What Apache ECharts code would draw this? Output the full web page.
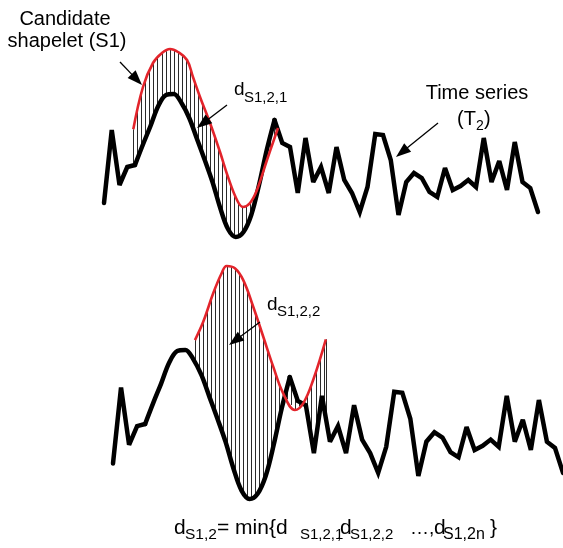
<!DOCTYPE html>
<html><head><meta charset="utf-8">
<script src="https://cdn.jsdelivr.net/npm/echarts@6/dist/echarts.min.js"></script>
<style>html,body{margin:0;padding:0;background:#fff;}#c{width:563px;height:548px;}</style>
</head><body><div id="c"></div>
<script>
// ---- data ----
const timeIndex = [];
for (let i = 0; i <= 56; i++) timeIndex.push(i);
const seriesT2 = [3.7, 11.0, 5.5, 7.3, 7.5, 9.5, 11.4, 13.4, 14.5, 14.6,
  13.7, 12.2, 10.1, 8.0, 5.8, 3.2, 1.1, 0.3, 0.8, 2.5,
  5.5, 9.0, 12.0, 9.7, 9.3, 4.7, 10.2, 5.8, 7.3, 4.7,
  9.3, 6.0, 4.7, 2.8, 5.3, 10.6, 10.5, 8.0, 2.5, 5.8,
  6.7, 6.2, 4.8, 4.3, 7.2, 5.0, 5.4, 6.0, 5.3, 10.2,
  5.8, 7.9, 5.0, 9.8, 5.8, 5.2, 2.8];
// candidate shapelet S1 placed at offset 1 (top) and offset 2 (bottom): [time, value]
const shapeletTime1 = [3.78, 5.03, 6.32, 7.48, 8.52, 9.55, 10.71, 11.48, 12.39, 13.68, 14.97, 16.0, 17.16, 17.94, 18.84, 19.74, 21.03, 22.45];
const shapeletVal1  = [11.07, 15.3, 17.7, 18.7, 19.1, 18.8, 18.0, 16.3, 14.3, 11.7, 8.8, 6.3, 4.0, 3.3, 3.7, 5.0, 8.0, 11.2];
const shapeletTime2 = [10.2, 11.23, 12.47, 13.52, 14.14, 15.17, 16.21, 17.45, 18.7, 19.94, 21.18, 22.64, 23.67, 24.91, 26.49];
const shapeletVal2  = [15.55, 17.3, 20.04, 21.96, 22.66, 22.44, 21.3, 18.75, 15.87, 13.0, 10.44, 8.84, 9.48, 11.72, 15.62];

const blackPts = timeIndex.map((t, i) => [t, seriesT2[i]]);
const red1 = shapeletTime1.map((t, i) => [t, shapeletVal1[i]]);
const red2 = shapeletTime2.map((t, i) => [t, shapeletVal2[i]]);
// the broad sine-like hump of T2 is drawn smooth, the noisy rest as a polyline
const blackA = blackPts.slice(0, 5);
const blackB = blackPts.slice(4, 23);
const blackC = blackPts.slice(22);

const FONT = '"Liberation Sans", Arial, sans-serif';

function interp(pts, t) {
  if (t <= pts[0][0]) return pts[0][1];
  for (let i = 1; i < pts.length; i++) {
    if (t <= pts[i][0]) {
      const a = pts[i - 1], b = pts[i];
      return a[1] + (b[1] - a[1]) * (t - a[0]) / (b[0] - a[0]);
    }
  }
  return pts[pts.length - 1][1];
}
function hatch(redPts, step) {
  return function (params, api) {
    const children = [];
    const t0 = redPts[0][0], t1 = redPts[redPts.length - 1][0];
    const ts = [];
    for (let t = t0; t < t1 - step * 0.3; t += step) ts.push(t);
    ts.push(t1);
    ts.forEach(t => {
      const a = api.coord([t, interp(redPts, t)]);
      const b = api.coord([t, interp(blackPts, t)]);
      const x = Math.round(a[0]) + 0.5;
      children.push({ type: 'line', shape: { x1: x, y1: a[1], x2: x, y2: b[1] },
        style: { stroke: '#2a2a2a', lineWidth: 1 } });
    });
    return { type: 'group', children };
  };
}

// ---- annotations ----
function txt(x, baseline, text, size, align) {
  return { type: 'text', x: x, y: baseline - 0.36 * size, z: 100,
    style: { text: text, font: size + 'px ' + FONT, fill: '#000',
      align: align || 'left', verticalAlign: 'middle' } };
}
function arrow(x1, y1, x2, y2) {
  const dx = x2 - x1, dy = y2 - y1, L = Math.hypot(dx, dy);
  const ux = dx / L, uy = dy / L, hl = 15, hw = 5.5;
  const bx = x2 - ux * hl, by = y2 - uy * hl;
  return [
    { type: 'line', z: 100, shape: { x1: x1, y1: y1, x2: bx + ux * 2, y2: by + uy * 2 },
      style: { stroke: '#000', lineWidth: 1.3 } },
    { type: 'polygon', z: 100, shape: { points: [[x2, y2], [bx - uy * hw, by + ux * hw], [bx + uy * hw, by - ux * hw]] },
      style: { fill: '#000' } }
  ];
}

const graphics = [
  txt(65, 27, 'Candidate', 20, 'center'),
  txt(67, 49, 'shapelet (S1)', 20, 'center'),
  txt(477, 101, 'Time series', 20, 'center'),
  txt(457, 127, '(T', 20),
  txt(476, 131, '2', 14),
  txt(484, 127, ')', 20),
  txt(234, 97, 'd', 19),
  txt(244, 103, 'S1,2,1', 15),
  txt(267, 312, 'd', 19),
  txt(277, 317, 'S1,2,2', 15),
  // formula
  txt(174, 536, 'd', 21),
  txt(185, 540, 'S1,2', 15.5),
  txt(217, 536, '= min{d', 21),
  txt(300, 540, 'S1,2,1', 15),
  txt(337, 540, ',', 15),
  txt(340, 536, 'd', 21),
  txt(350, 540, 'S1,2,2', 15),
  txt(410, 536, '…,', 19),
  txt(434, 536, 'd', 21),
  txt(443, 540, 'S1,2n', 16),
  txt(490, 536, '}', 21)
].concat(arrow(120, 62, 142, 85), arrow(227, 105, 197, 128),
         arrow(438, 123, 396, 157), arrow(260, 322, 229, 345));

const chart = echarts.init(document.getElementById('c'), null, { renderer: 'canvas' });
const blackStyle = { color: '#000', width: 4.5, join: 'miter', miterLimit: 3, cap: 'round' };
const redStyle = { color: '#e3242b', width: 2.6 };
function blk(idx, data, smooth) {
  return { type: 'line', xAxisIndex: idx, yAxisIndex: idx, data: data, symbol: 'none',
    smooth: smooth, lineStyle: blackStyle, z: 2, clip: false };
}
chart.setOption({
  animation: false,
  backgroundColor: '#fff',
  grid: [
    { left: 104, width: 434, top: 30, height: 210 },
    { left: 113, width: 450, top: 241.6, height: 260.5 }
  ],
  xAxis: [
    { type: 'value', gridIndex: 0, min: 0, max: 56, show: false },
    { type: 'value', gridIndex: 1, min: 0, max: 56, show: false }
  ],
  yAxis: [
    { type: 'value', gridIndex: 0, min: 0, max: 21, show: false },
    { type: 'value', gridIndex: 1, min: 0, max: 25, show: false }
  ],
  series: [
    { type: 'custom', xAxisIndex: 0, yAxisIndex: 0, data: [[0, 0]], renderItem: hatch(red1, 0.52), clip: false, z: 1, silent: true },
    { type: 'custom', xAxisIndex: 1, yAxisIndex: 1, data: [[0, 0]], renderItem: hatch(red2, 0.5), clip: false, z: 1, silent: true },
    blk(0, blackA, false), blk(0, blackB, 0.35), blk(0, blackC, false),
    blk(1, blackA, false), blk(1, blackB, 0.35), blk(1, blackC, false),
    { type: 'line', xAxisIndex: 0, yAxisIndex: 0, data: red1, symbol: 'none', smooth: 0.4, lineStyle: redStyle, z: 3, clip: false },
    { type: 'line', xAxisIndex: 1, yAxisIndex: 1, data: red2, symbol: 'none', smooth: 0.4, lineStyle: redStyle, z: 3, clip: false }
  ],
  graphic: graphics
});
</script>
</body></html>
